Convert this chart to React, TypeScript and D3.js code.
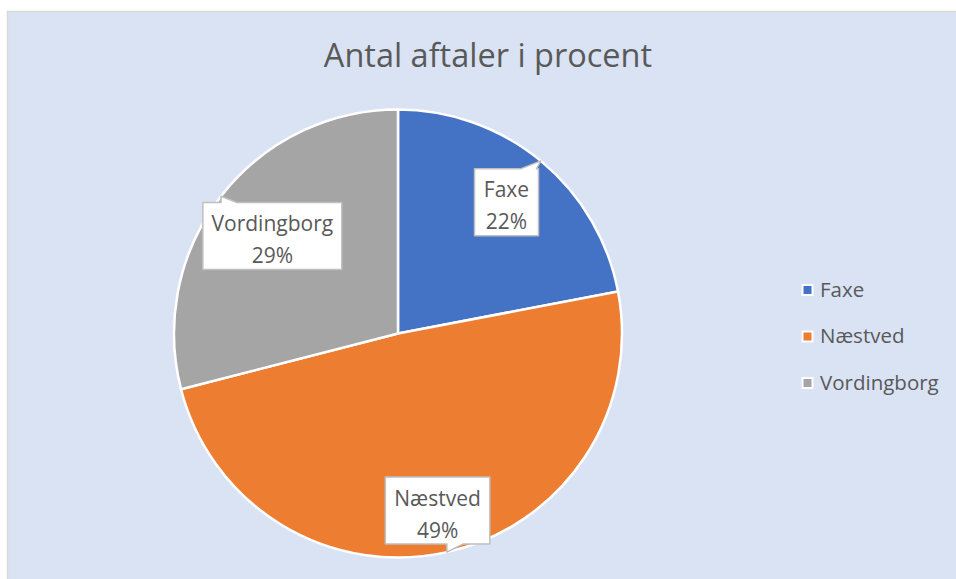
import React from "react";
import * as d3 from "d3";

// data
const categories = ["Faxe", "Næstved", "Vordingborg"];
const shares = [22, 49, 29];
const colors = ["#4472C4", "#ED7D31", "#A5A5A5"];
// how far out along each slice the callout box sits (fraction of radius)
const labelRadius = [0.76, 0.81, 0.71];

const W = 956;
const H = 579;
const FONT = "'Open Sans', sans-serif";
const TEXT = "#595959";
const LABEL_SIZE = 21;

const cx = 398;
const cy = 333.5;
const r = 224;

type Slice = d3.PieArcDatum<number>;

let ctx: CanvasRenderingContext2D | null = null;
const measure = (s: string, size: number) => {
  if (!ctx) ctx = document.createElement("canvas").getContext("2d");
  if (!ctx) return s.length * size * 0.55;
  ctx.font = `${size}px ${FONT}`;
  return ctx.measureText(s).width;
};

const App: React.FC = () => {
  const pie = d3.pie<number>().sort(null).value((d) => d);
  const arcs: Slice[] = pie(shares);
  const arc = d3.arc<Slice>().innerRadius(0).outerRadius(r);

  const legendY = d3.scalePoint<string>().domain(categories).range([289.5, 382.5]);

  const callout = (a: Slice, i: number) => {
    const mid = (a.startAngle + a.endAngle) / 2;
    const lx = Math.sin(mid) * r * labelRadius[i];
    const ly = -Math.cos(mid) * r * labelRadius[i];
    const tx = Math.sin(mid) * r;
    const ty = -Math.cos(mid) * r;
    const name = categories[i];
    const tw = Math.max(measure(name, LABEL_SIZE), measure(shares[i] + "%", LABEL_SIZE));
    const bw = Math.max(64, Math.min(tw + 18, 139));
    const bh = 67;
    const x0 = lx - bw / 2;
    const x1 = lx + bw / 2;
    const y0 = ly - bh / 2;
    const y1 = ly + bh / 2;
    const up = ty < y0;
    const b1 = Math.min(Math.max(tx, x0 + 2), x1 - 2);
    const b2 = b1 + (tx > lx + bw / 2 - 4 ? -16 : 16);
    const lo = Math.min(b1, b2);
    const hi = Math.max(b1, b2);
    const pts: [number, number][] = up
      ? [[x0, y0], [lo, y0], [tx, ty], [hi, y0], [x1, y0], [x1, y1], [x0, y1]]
      : [[x0, y0], [x1, y0], [x1, y1], [hi, y1], [tx, ty], [lo, y1], [x0, y1]];
    return (
      <g key={name}>
        <path
          d={d3.line()(pts) + "Z"}
          transform={`translate(${cx},${cy})`}
          fill="#ffffff"
          stroke="#BFBFBF"
          strokeWidth={1.5}
          strokeLinejoin="round"
        />
        <text
          x={cx + lx}
          y={cy + ly - 5}
          textAnchor="middle"
          fontFamily={FONT}
          fontSize={LABEL_SIZE}
          fill={TEXT}
        >
          {name}
        </text>
        <text
          x={cx + lx}
          y={cy + ly + 27}
          textAnchor="middle"
          fontFamily={FONT}
          fontSize={LABEL_SIZE}
          fill={TEXT}
        >
          {shares[i]}%
        </text>
      </g>
    );
  };

  return (
    <svg
      width={W}
      height={H}
      style={{ position: "absolute", left: 0, top: 0 }}
    >
      <rect x={0} y={0} width={W} height={H} fill="#ffffff" />
      <rect
        x={7.5}
        y={11.5}
        width={W}
        height={H}
        fill="#DAE3F3"
        stroke="#D9D9D9"
        strokeWidth={1.5}
      />
      <text
        x={488}
        y={67}
        textAnchor="middle"
        fontFamily={FONT}
        fontSize={32.5}
        fill={TEXT}
      >
        Antal aftaler i procent
      </text>

      <g transform={`translate(${cx},${cy})`}>
        {arcs.map((a, i) => (
          <path
            key={categories[i]}
            d={arc(a) || ""}
            fill={colors[i]}
            stroke="#ffffff"
            strokeWidth={2.5}
          />
        ))}
      </g>

      {arcs.map((a, i) => callout(a, i))}

      {categories.map((c, i) => (
        <g key={c} transform={`translate(0,${legendY(c)})`}>
          <rect
            x={802.5}
            y={-4.5}
            width={10}
            height={10}
            fill={colors[i]}
            stroke="#ffffff"
            strokeWidth={2}
          />
          <text
            x={820}
            y={7}
            fontFamily={FONT}
            fontSize={20.5}
            fill={TEXT}
          >
            {c}
          </text>
        </g>
      ))}
    </svg>
  );
};

export default App;
